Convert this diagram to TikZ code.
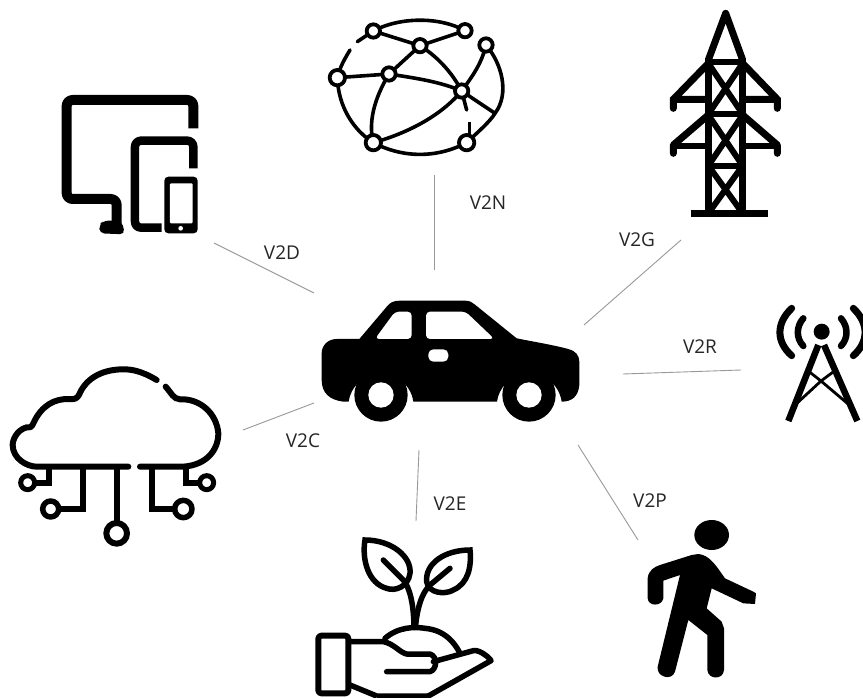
\documentclass[tikz,border=0pt]{standalone}
\usepackage{fontspec}
\setmainfont{Open Sans}
\tikzset{
  lnk/.style={draw=black!40,line width=0.9pt},
  lab/.style={font=\fontsize{19}{22}\selectfont,text=black!85,inner sep=0pt},
  ic/.style={draw=black,line width=#1,line cap=round,line join=round},
  ic/.default=6pt,
  zoomed/.style={scale=1/3}
}
\begin{document}
\begin{tikzpicture}[x=1pt,y=-1pt]
\useasboundingbox (0,0) rectangle (863,698);
\fill[white] (0,0) rectangle (863,698);
\begin{scope}
\clip (0,0) rectangle (863,698);
% globe
\begin{scope}[shift={(310,0)},zoomed]
\coordinate (gA) at (190,93);\coordinate (gB) at (465,92);\coordinate (gC) at (528,135);
\coordinate (gD) at (330,137);\coordinate (gE) at (237,222);\coordinate (gF) at (82,233);
\coordinate (gG) at (455,273);\coordinate (gH) at (190,428);\coordinate (gI) at (470,428);
\draw[ic=3.6pt] (gA) .. controls (270,50) and (390,50) .. (gB);
\draw[ic=3.6pt] (gC) .. controls (575,190) and (600,280) .. (555,340) .. controls (540,365) and (505,395) .. (gI);
\draw[ic=3.6pt] (gH) .. controls (280,475) and (380,475) .. (gI);
\draw[ic=3.6pt] (gF) .. controls (85,320) and (130,390) .. (gH);
\draw[ic=3.6pt] (gF) .. controls (90,200) and (105,175) .. (120,150);
\draw[ic=3.6pt] (142,125) -- (gA);
\draw[ic=3.6pt] (gA) -- (gD) -- (gB);
\draw[ic=3.6pt] (gD) -- (gE) -- (gF);
\draw[ic=3.6pt] (gD) .. controls (390,175) and (430,225) .. (gG);
\draw[ic=3.6pt] (gE) .. controls (320,235) and (390,245) .. (gG);
\draw[ic=3.6pt] (gC) .. controls (515,190) and (490,225) .. (gG);
\draw[ic=3.6pt] (gG) -- (555,340);
\draw[ic=3.6pt] (gG) -- (470,330);
\draw[ic=3.6pt,line cap=butt] (478,365) -- (478,410);
\draw[ic=3.6pt] (gE) .. controls (190,300) and (175,370) .. (gH);
\draw[ic=3.6pt] (gH) .. controls (290,400) and (390,350) .. (gG);
\foreach \c/\r in {gA/20,gB/20,gC/20,gD/20,gE/20,gF/23,gG/20,gH/23,gI/23}
  \draw[ic=3.8pt,fill=white] (\c) circle[radius=\r];
\end{scope}
% pylon
\begin{scope}[shift={(640,0)},zoomed]
\draw[ic=7pt,line join=miter] (100,325) -- (100,298) -- (205,190) (412,325) -- (412,298) -- (308,190)
  (100,298) -- (205,298) (412,298) -- (308,298);
\draw[ic=7pt] (100,460) -- (100,435) -- (205,345) (412,460) -- (412,435) -- (308,345);
\draw[ic=6pt,line cap=butt] (100,437) -- (205,437) (412,437) -- (308,437);
\draw[ic=7pt,line cap=butt] (205,175) -- (205,640) (308,175) -- (308,640);
\draw[ic=7pt] (205,180) -- (257,40) -- (308,180);
\draw[ic=6pt,line cap=butt] (205,185) -- (308,185) (205,342) -- (308,342) (205,497) -- (308,497);
\draw[ic=6pt,line cap=butt] (205,190) -- (308,342) (308,190) -- (205,342)
  (205,345) -- (308,497) (308,345) -- (205,497)
  (205,497) -- (308,640) (308,497) -- (205,640);
\draw[ic=7pt,line cap=butt] (152,642) -- (385,642);
\end{scope}
% devices
\begin{scope}[shift={(50,85)},zoomed]
\draw[ic=10pt,line cap=butt,line join=round,rounded corners=6pt] (430,130) -- (430,45) -- (50,45) -- (50,342) -- (200,342) -- (200,430);
\fill[rounded corners=5pt] (148,445) -- (148,420) -- (160,407) -- (215,407) -- (225,448) -- cycle;
\draw[ic=8.5pt,line cap=butt,rounded corners=6pt] (430,250) -- (430,167) -- (255,167) -- (255,428) -- (335,428);
\fill[black,rounded corners=4pt] (343,275) rectangle (443,445);
\fill[white,rounded corners=1pt] (360,295) rectangle (428,415);
\fill[white] (392,430) circle[radius=7];
\end{scope}
% car
\begin{scope}[shift={(310,290)},zoomed]
\fill (35,190) .. controls (35,165) and (55,147) .. (80,147) -- (148,147) -- (232,48)
 .. controls (240,38) and (250,32) .. (270,32) -- (465,32) .. controls (480,32) and (488,38) .. (495,44)
 -- (620,145) .. controls (670,155) and (730,165) .. (775,177) .. controls (795,182) and (808,195) .. (808,215)
 -- (808,285) .. controls (805,320) and (785,335) .. (755,335) 
 arc[start angle=8,end angle=172,radius=98,x radius=98,y radius=-98]
 -- (310,335)
 arc[start angle=8,end angle=172,radius=98,x radius=98,y radius=-98]
 -- (100,335) .. controls (60,330) and (35,310) .. (35,270) -- cycle;
\fill (213,315) circle[radius=80];
\fill (657,315) circle[radius=80];
\fill[white] (213,315) circle[radius=38];
\fill[white] (657,315) circle[radius=38];
\fill[white,rounded corners=4pt] (195,147) -- (255,65) -- (305,65) -- (305,147) -- cycle;
\fill[white,rounded corners=4pt] (348,65) -- (467,65) -- (553,147) -- (348,147) -- cycle;
\fill[white,rounded corners=5pt] (355,178) rectangle (415,215);
\end{scope}
% antenna
\begin{scope}[shift={(760,295)},zoomed]
\fill (185,110) circle[radius=24];
\draw[ic=6.5pt] (130,70) .. controls (108,95) and (108,130) .. (130,153);
\draw[ic=6.5pt] (243,70) .. controls (265,95) and (265,130) .. (243,153);
\draw[ic=7pt] (95,40) .. controls (48,85) and (48,140) .. (95,182);
\draw[ic=7pt] (280,40) .. controls (327,85) and (327,140) .. (280,182);
\draw[ic=6.5pt,line cap=butt] (85,378) -- (175,150) (292,378) -- (192,150);
\draw[ic=2.8pt,line cap=butt] (150,232) -- (183,258) -- (218,232) (183,258) -- (105,330) (183,258) -- (268,330);
\end{scope}
% cloud
\begin{scope}[shift={(0,330)},zoomed]
\draw[ic=6pt] (470,150) .. controls (420,120) and (390,118) .. (370,118) .. controls (300,118) and (255,150) .. (237,195)
  .. controls (230,207) and (222,208) .. (210,207) .. controls (165,205) and (125,225) .. (100,280)
  .. controls (95,292) and (88,295) .. (80,292) .. controls (50,300) and (38,330) .. (38,345)
  .. controls (38,385) and (80,410) .. (110,410) -- (385,410);
\draw[ic=6pt] (420,410) -- (550,410) .. controls (620,405) and (655,360) .. (655,310)
  .. controls (650,250) and (600,205) .. (540,208) .. controls (520,207) and (515,190) .. (497,170);
\draw[ic=6pt,line cap=butt,line join=miter] (148,410) -- (148,460) -- (105,460);
\draw[ic=6pt,line cap=butt,line join=miter] (250,410) -- (250,537) -- (175,537);
\draw[ic=6pt,line cap=butt] (350,410) -- (350,580);
\draw[ic=6pt,line cap=butt,line join=miter] (455,410) -- (455,537) -- (525,537);
\draw[ic=6pt,line cap=butt,line join=miter] (557,410) -- (557,460) -- (600,460);
\draw[ic=5pt] (83,458) circle[radius=21];
\draw[ic=5.5pt] (152,537) circle[radius=24];
\draw[ic=6pt] (350,610) circle[radius=31];
\draw[ic=5.5pt] (550,537) circle[radius=26];
\draw[ic=5pt] (620,458) circle[radius=21];
\end{scope}
% plant and hand
\begin{scope}[shift={(305,530)},zoomed]
\draw[ic=5.5pt,line join=miter] (180,30) .. controls (260,30) and (320,80) .. (315,130) .. controls (310,170) and (270,185) .. (245,175) .. controls (190,160) and (170,90) .. (180,30) -- cycle;
\draw[ic=5.5pt] (235,90) -- (295,150) .. controls (315,175) and (325,220) .. (327,285);
\draw[ic=5.5pt,line join=miter] (495,60) .. controls (420,60) and (360,100) .. (365,155) .. controls (370,190) and (420,195) .. (445,180) .. controls (490,160) and (500,110) .. (495,60) -- cycle;
\draw[ic=5.5pt] (435,115) -- (375,165) .. controls (350,190) and (338,230) .. (332,285);
\draw[ic=5.5pt] (240,325) .. controls (280,290) and (330,290) .. (360,295) .. controls (420,300) and (450,340) .. (465,370);
\draw[ic=6pt,rounded corners=3pt] (40,317) rectangle (130,490);
\draw[ic=5.5pt] (135,335) -- (235,335) .. controls (265,340) and (285,368) .. (305,372) -- (375,372) .. controls (400,380) and (395,420) .. (375,425) -- (245,425);
\draw[ic=5.5pt] (385,395) -- (505,362) .. controls (525,358) and (555,385) .. (558,392) -- (370,498);
\draw[ic=5.5pt,line cap=butt] (135,465) -- (215,498) (370,498) -- (215,498);
\end{scope}
% walker
\begin{scope}[shift={(630,510)},zoomed]
\fill (245,75) ellipse[x radius=52,y radius=45];
\fill (205,132) .. controls (240,135) and (260,170) .. (285,205) -- (370,245) -- (378,250) -- (375,282)
 -- (340,280) -- (245,235) -- (230,295) -- (275,335) -- (282,355) -- (282,480) .. controls (280,510) and (235,510) .. (232,480)
 -- (232,375) -- (175,330) -- (135,485) .. controls (125,515) and (78,500) .. (83,470)
 -- (150,195) -- (100,212) -- (100,265) .. controls (95,290) and (55,290) .. (53,265) -- (53,205) .. controls (55,180) and (75,170) .. (90,165) -- (185,135) -- cycle;
\end{scope}
\end{scope}
% connectors
\coordinate (n1) at (434,175); \coordinate (n2) at (434,270);
\coordinate (d1) at (214,243); \coordinate (d2) at (314,293);
\coordinate (g1) at (681,240); \coordinate (g2) at (584,325);
\coordinate (r1) at (623,374); \coordinate (r2) at (741,370);
\coordinate (p1) at (578,445); \coordinate (p2) at (638,540);
\coordinate (e1) at (419,450); \coordinate (e2) at (416,521);
\coordinate (c1) at (243,430); \coordinate (c2) at (314,403);
\draw[lnk] (n1) -- (n2);
\draw[lnk] (d1) -- (d2);
\draw[lnk] (g1) -- (g2);
\draw[lnk] (r1) -- (r2);
\draw[lnk] (p1) -- (p2);
\draw[lnk] (e1) -- (e2);
\draw[lnk] (c1) -- (c2);
% labels
\node[lab] (tD) at (282,253) {V2D};
\node[lab] (tN) at (488,203) {V2N};
\node[lab] (tG) at (637,240) {V2G};
\node[lab] (tR) at (700,347) {V2R};
\node[lab] (tC) at (303,441) {V2C};
\node[lab] (tE) at (450,504) {V2E};
\node[lab] (tP) at (650,501) {V2P};
\end{tikzpicture}
\end{document}
